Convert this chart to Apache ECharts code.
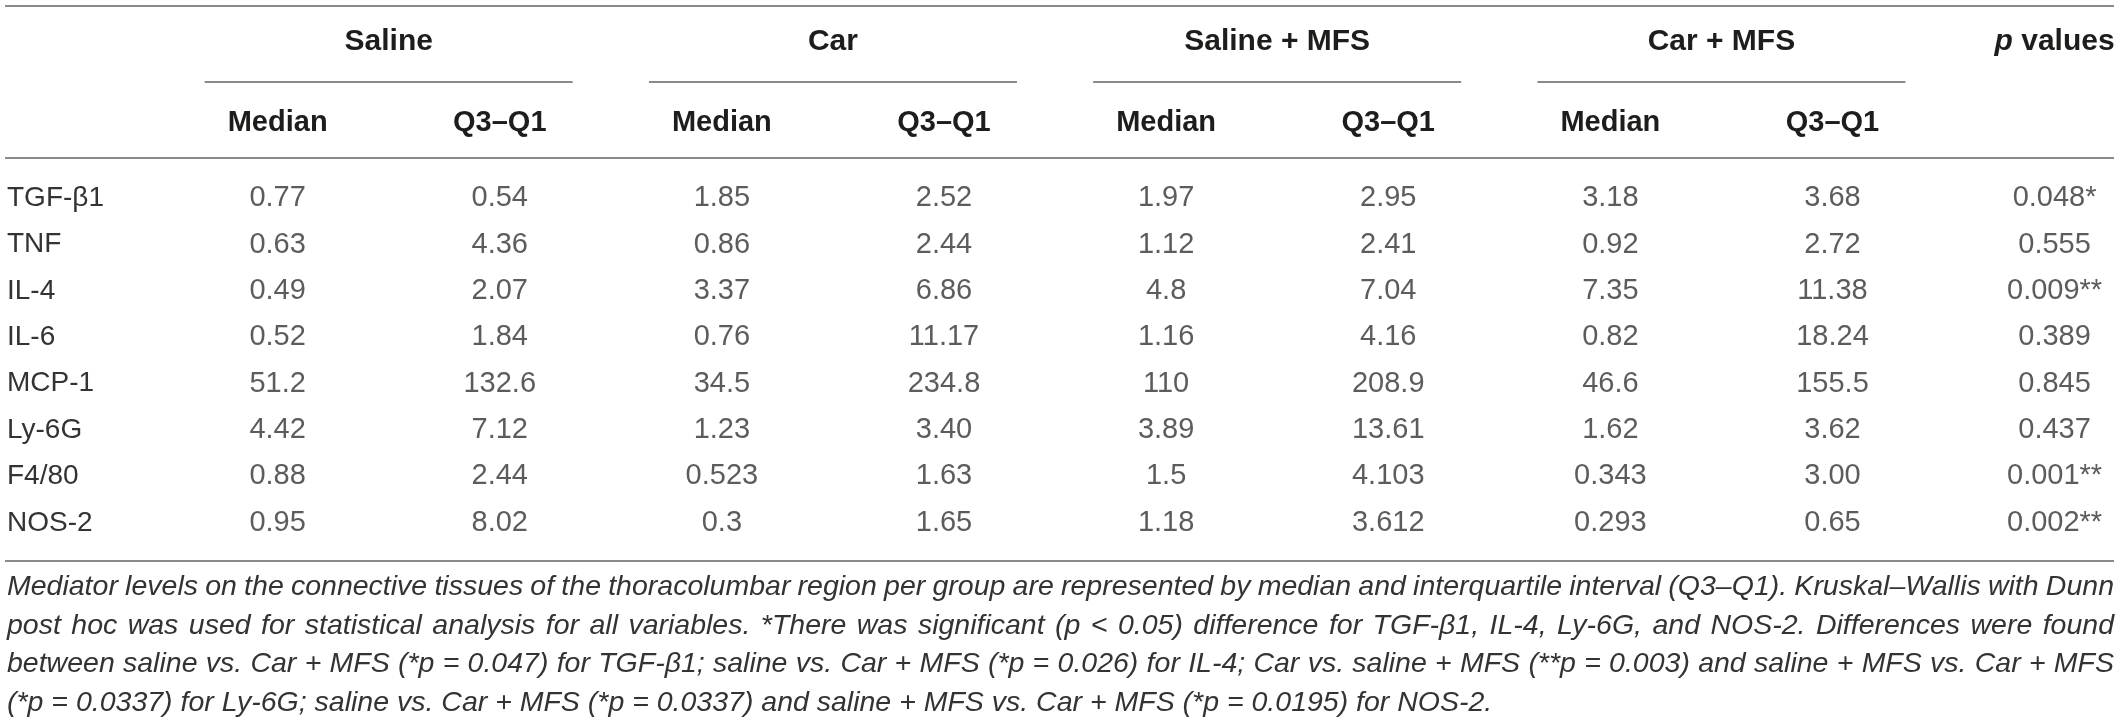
<!DOCTYPE html>
<html>
<head>
<meta charset="utf-8">
<script src="https://cdn.jsdelivr.net/npm/echarts@6/dist/echarts.min.js"></script>
<style>
  html, body { margin: 0; padding: 0; background: #fff; }
  #table { width: 2119px; height: 721px; }
</style>
</head>
<body>
<div id="table"></div>
<script>
var FONT = '"Liberation Sans", Arial, sans-serif';

// rows and column groups
var mediators = ['TGF-β1', 'TNF', 'IL-4', 'IL-6', 'MCP-1', 'Ly-6G', 'F4/80', 'NOS-2'];
var groups = ['Saline', 'Car', 'Saline + MFS', 'Car + MFS'];
var subHeaders = ['Median', 'Q3–Q1'];

// values, kept as printed text so trailing zeros survive
var salineMedian    = ['0.77', '0.63', '0.49', '0.52', '51.2', '4.42', '0.88', '0.95'];
var salineIqr       = ['0.54', '4.36', '2.07', '1.84', '132.6', '7.12', '2.44', '8.02'];
var carMedian       = ['1.85', '0.86', '3.37', '0.76', '34.5', '1.23', '0.523', '0.3'];
var carIqr          = ['2.52', '2.44', '6.86', '11.17', '234.8', '3.40', '1.63', '1.65'];
var salineMfsMedian = ['1.97', '1.12', '4.8', '1.16', '110', '3.89', '1.5', '1.18'];
var salineMfsIqr    = ['2.95', '2.41', '7.04', '4.16', '208.9', '13.61', '4.103', '3.612'];
var carMfsMedian    = ['3.18', '0.92', '7.35', '0.82', '46.6', '1.62', '0.343', '0.293'];
var carMfsIqr       = ['3.68', '2.72', '11.38', '18.24', '155.5', '3.62', '3.00', '0.65'];
var pValues         = ['0.048*', '0.555', '0.009**', '0.389', '0.845', '0.437', '0.001**', '0.002**'];

var footnote = [
    'Mediator levels on the connective tissues of the thoracolumbar region per group are represented by median and interquartile interval (Q3–Q1). Kruskal–Wallis with Dunn',
    'post hoc was used for statistical analysis for all variables. *There was significant (p < 0.05) difference for TGF-β1, IL-4, Ly-6G, and NOS-2. Differences were found',
    'between saline vs. Car + MFS (*p = 0.047) for TGF-β1; saline vs. Car + MFS (*p = 0.026) for IL-4; Car vs. saline + MFS (**p = 0.003) and saline + MFS vs. Car + MFS',
    '(*p = 0.0337) for Ly-6G; saline vs. Car + MFS (*p = 0.0337) and saline + MFS vs. Car + MFS (*p = 0.0195) for NOS-2.'
];

var columns = [salineMedian, salineIqr, carMedian, carIqr,
               salineMfsMedian, salineMfsIqr, carMfsMedian, carMfsIqr, pValues];

var cells = [];
columns.forEach(function (col, c) {
    col.forEach(function (txt, r) {
        cells.push({ name: txt, value: [c, r] });
    });
});

var chart = echarts.init(document.getElementById('table'), null, { renderer: 'canvas' });

chart.setOption({
    animation: false,
    grid: { left: 0, right: 0, top: 175, height: 371 },
    xAxis: { type: 'value', min: -1.25, max: 8.29, show: false },
    yAxis: {
        type: 'category',
        data: mediators,
        inverse: true,
        axisLine: { show: false },
        axisTick: { show: false },
        splitLine: { show: false },
        axisLabel: { inside: true, margin: 7, fontSize: 28, color: '#333', fontFamily: FONT }
    },
    series: [{
        type: 'scatter',
        data: cells,
        symbolSize: 1,
        silent: true,
        itemStyle: { color: 'transparent' },
        label: {
            show: true,
            position: 'inside',
            formatter: '{b}',
            fontSize: 29,
            color: '#333',
            fontFamily: FONT
        },
        emphasis: { disabled: true }
    }]
});

// header, rules and footnote are laid out from the x axis
function px(col) {
    return chart.convertToPixel({ xAxisIndex: 0 }, col);
}

var LINE = { stroke: '#8a8a8a', lineWidth: 2 };
var left = 5, right = 2114;
var els = [];

function hline(y, x1, x2) {
    els.push({ type: 'line', silent: true, shape: { x1: x1, y1: y, x2: x2, y2: y }, style: LINE });
}

hline(6, left, right);
hline(158, left, right);
hline(561, left, right);

groups.forEach(function (g, i) {
    var mid = (px(2 * i) + px(2 * i + 1)) / 2;
    els.push({
        type: 'text', silent: true,
        style: { text: g, x: mid, y: 42, align: 'center', verticalAlign: 'middle',
                 fontSize: 30, fontWeight: 'bold', fontFamily: FONT, fill: '#1d1d1b' }
    });
    hline(82, mid - 184, mid + 184);
    subHeaders.forEach(function (s, k) {
        els.push({
            type: 'text', silent: true,
            style: { text: s, x: px(2 * i + k), y: 123, align: 'center', verticalAlign: 'middle',
                     fontSize: 29, fontWeight: 'bold', fontFamily: FONT, fill: '#1d1d1b' }
        });
    });
});

els.push({
    type: 'text', silent: true,
    style: {
        text: '{i|p} values', x: px(8), y: 42, align: 'center', verticalAlign: 'middle',
        fontSize: 30, fontWeight: 'bold', fontFamily: FONT, fill: '#1d1d1b',
        rich: { i: { fontStyle: 'italic', fontWeight: 'bold', fontSize: 30, fontFamily: FONT, fill: '#1d1d1b' } }
    }
});

// footnote, justified like the printed caption
var ctx = document.createElement('canvas').getContext('2d');
function fnFont(size) { return 'italic ' + size + 'px ' + FONT; }
ctx.font = fnFont(25);
var fs = 25 * 1490 / ctx.measureText(footnote[3]).width;
fs = Math.min(28.5, Math.max(22, fs));
ctx.font = fnFont(fs);
var lineY = [587, 626, 664, 703];
var textW = right - 7;

footnote.forEach(function (line, li) {
    var words = line.split(' ');
    var widths = words.map(function (w) { return ctx.measureText(w).width; });
    var total = widths.reduce(function (a, b) { return a + b; }, 0);
    var last = li === footnote.length - 1;
    var gap = last ? ctx.measureText(' ').width : (textW - total) / (words.length - 1);
    var x = 7;
    words.forEach(function (w, k) {
        els.push({
            type: 'text', silent: true,
            style: { text: w, x: x, y: lineY[li], align: 'left', verticalAlign: 'middle',
                     fontSize: fs, fontStyle: 'italic', fontFamily: FONT, fill: '#333' }
        });
        x += widths[k] + gap;
    });
});

chart.setOption({ graphic: { elements: els } });
</script>
</body>
</html>
